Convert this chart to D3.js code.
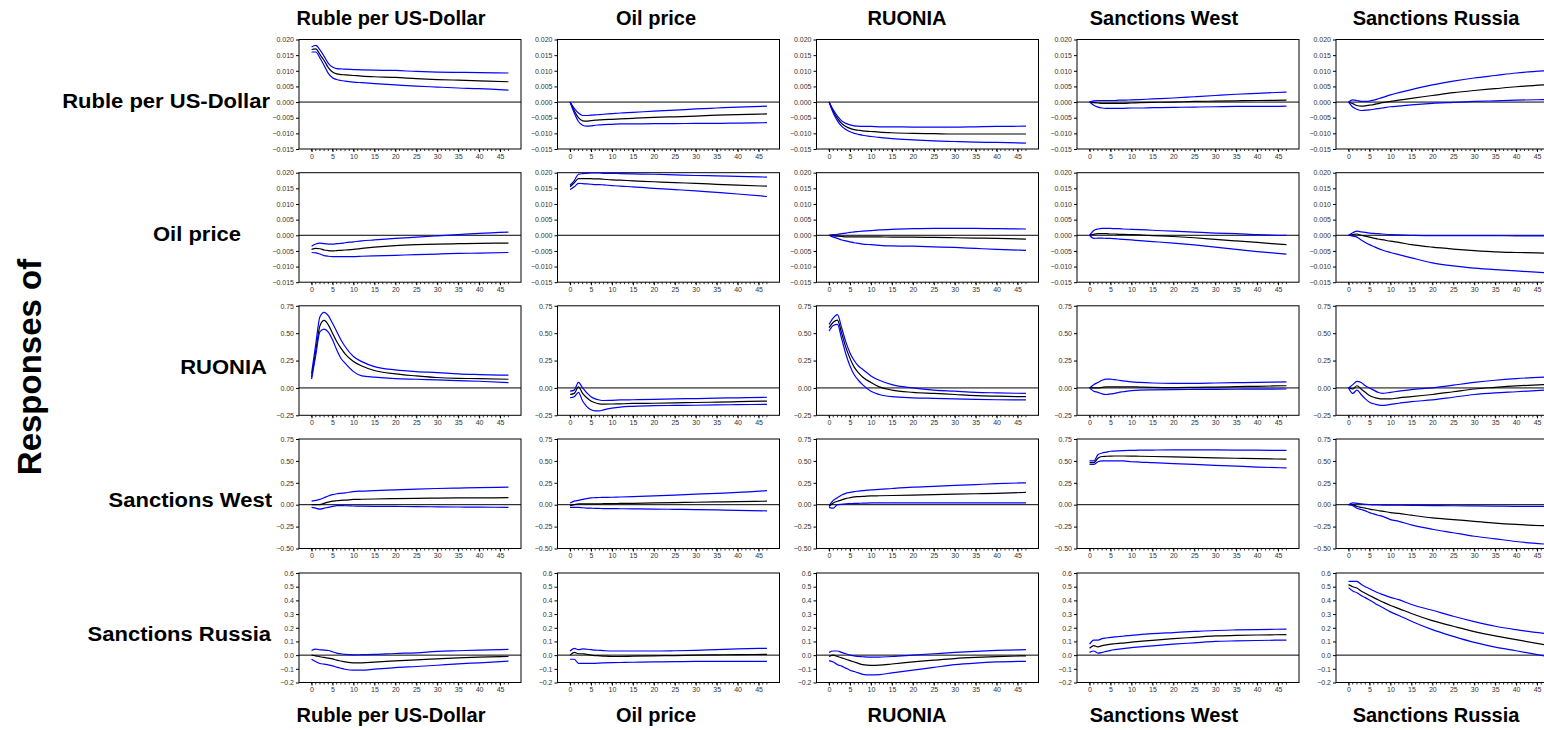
<!DOCTYPE html>
<html>
<head>
<meta charset="utf-8">
<script src="https://cdn.jsdelivr.net/npm/d3@7"></script>
<style>
  html, body { margin: 0; padding: 0; background: #fff; }
  text { font-family: "Liberation Sans", Arial, sans-serif; }
</style>
</head>
<body>
<div id="chart"></div>
<script>
// variable names (rows = responses, columns = shocks)
var variables = ["Ruble per US-Dollar", "Oil price", "RUONIA", "Sanctions West", "Sanctions Russia"];

var horizons = [0, 1, 2, 3, 4, 5, 6, 7, 8, 10, 12, 15, 20, 25, 30, 35, 40, 47];
var xTicks = [0, 5, 10, 15, 20, 25, 30, 35, 40, 45];
var xMinorTicks = d3.range(0, 48);

// y axis per response row
var yDomains = [[-0.015, 0.020], [-0.015, 0.020], [-0.25, 0.75], [-0.50, 0.75], [-0.2, 0.6]];
var yTicks = [
  [-0.015, -0.010, -0.005, 0.000, 0.005, 0.010, 0.015, 0.020],
  [-0.015, -0.010, -0.005, 0.000, 0.005, 0.010, 0.015, 0.020],
  [-0.25, 0.00, 0.25, 0.50, 0.75],
  [-0.50, -0.25, 0.00, 0.25, 0.50, 0.75],
  [-0.2, -0.1, 0.0, 0.1, 0.2, 0.3, 0.4, 0.5, 0.6]
];
var yFormats = [".3f", ".3f", ".2f", ".2f", ".1f"];

// impulse responses: [upper band, estimate, lower band], response_shock
var ruble_ruble = [
  [0.0176,0.0181,0.0167,0.0146,0.0124,0.0112,0.0107,0.0106,0.0105,0.0104,0.0103,0.0102,0.0101,0.0098,0.0096,0.0095,0.0094,0.0093],
  [0.0168,0.0170,0.0152,0.0133,0.0110,0.0096,0.0090,0.0088,0.0087,0.0085,0.0083,0.0081,0.0079,0.0075,0.0072,0.0070,0.0068,0.0065],
  [0.0160,0.0160,0.0141,0.0117,0.0092,0.0078,0.0072,0.0069,0.0067,0.0064,0.0062,0.0059,0.0055,0.0051,0.0048,0.0045,0.0043,0.0038]
];
var ruble_oil = [
  [0,-0.0020,-0.0035,-0.0043,-0.0043,-0.0042,-0.0041,-0.0040,-0.0039,-0.0037,-0.0035,-0.0033,-0.0029,-0.0026,-0.0022,-0.0019,-0.0016,-0.0013],
  [0,-0.0028,-0.0050,-0.0060,-0.0061,-0.0059,-0.0058,-0.0057,-0.0056,-0.0055,-0.0054,-0.0052,-0.0049,-0.0047,-0.0045,-0.0042,-0.0040,-0.0038],
  [0,-0.0035,-0.0062,-0.0074,-0.0077,-0.0076,-0.0074,-0.0073,-0.0072,-0.0071,-0.0070,-0.0070,-0.0069,-0.0069,-0.0068,-0.0068,-0.0067,-0.0066]
];
var ruble_ruonia = [
  [0,-0.0025,-0.0045,-0.0060,-0.0068,-0.0073,-0.0076,-0.0077,-0.0078,-0.0078,-0.0079,-0.0079,-0.0080,-0.0080,-0.0080,-0.0079,-0.0078,-0.0077],
  [0,-0.0030,-0.0052,-0.0068,-0.0078,-0.0084,-0.0088,-0.0090,-0.0092,-0.0094,-0.0096,-0.0098,-0.0100,-0.0101,-0.0102,-0.0102,-0.0102,-0.0102],
  [0,-0.0035,-0.0060,-0.0077,-0.0088,-0.0095,-0.0100,-0.0103,-0.0106,-0.0110,-0.0113,-0.0117,-0.0121,-0.0124,-0.0126,-0.0128,-0.0129,-0.0131]
];
var ruble_west = [
  [0,0.0004,0.0005,0.0005,0.0005,0.0005,0.0005,0.0006,0.0006,0.0007,0.0008,0.0010,0.0013,0.0017,0.0021,0.0025,0.0028,0.0032],
  [0,-0.0002,-0.0003,-0.0004,-0.0004,-0.0004,-0.0004,-0.0004,-0.0004,-0.0003,-0.0002,-0.0001,0.0000,0.0002,0.0003,0.0004,0.0005,0.0006],
  [0,-0.0010,-0.0016,-0.0019,-0.0020,-0.0020,-0.0020,-0.0020,-0.0020,-0.0019,-0.0019,-0.0018,-0.0017,-0.0016,-0.0015,-0.0014,-0.0014,-0.0013]
];
var ruble_russia = [
  [0,0.0007,0.0005,0.0002,0.0002,0.0003,0.0006,0.0010,0.0014,0.0023,0.0030,0.0040,0.0055,0.0067,0.0077,0.0085,0.0093,0.0100],
  [0,-0.0005,-0.0011,-0.0013,-0.0012,-0.0010,-0.0008,-0.0005,-0.0002,0.0002,0.0006,0.0012,0.0021,0.0030,0.0037,0.0043,0.0049,0.0055],
  [0,-0.0016,-0.0023,-0.0027,-0.0026,-0.0025,-0.0023,-0.0021,-0.0019,-0.0015,-0.0013,-0.0009,-0.0004,-0.0001,0.0002,0.0004,0.0006,0.0008]
];

var oil_ruble = [
  [-0.0035,-0.0028,-0.0025,-0.0027,-0.0028,-0.0028,-0.0027,-0.0026,-0.0024,-0.0021,-0.0018,-0.0015,-0.0010,-0.0006,-0.0002,0.0002,0.0006,0.0010],
  [-0.0045,-0.0042,-0.0043,-0.0047,-0.0049,-0.0050,-0.0049,-0.0048,-0.0047,-0.0045,-0.0042,-0.0038,-0.0033,-0.0030,-0.0028,-0.0027,-0.0026,-0.0025],
  [-0.0055,-0.0056,-0.0060,-0.0065,-0.0067,-0.0068,-0.0068,-0.0068,-0.0068,-0.0068,-0.0067,-0.0066,-0.0064,-0.0062,-0.0060,-0.0058,-0.0057,-0.0055]
];
var oil_oil = [
  [0.0160,0.0175,0.0195,0.0197,0.0198,0.0199,0.0199,0.0199,0.0198,0.0198,0.0197,0.0196,0.0195,0.0193,0.0191,0.0190,0.0188,0.0186],
  [0.0155,0.0168,0.0181,0.0181,0.0181,0.0181,0.0180,0.0180,0.0179,0.0177,0.0176,0.0174,0.0171,0.0168,0.0166,0.0163,0.0160,0.0157],
  [0.0146,0.0155,0.0166,0.0165,0.0164,0.0163,0.0162,0.0162,0.0161,0.0159,0.0157,0.0155,0.0150,0.0146,0.0142,0.0137,0.0132,0.0124]
];
var oil_ruonia = [
  [0,0.0002,0.0003,0.0005,0.0007,0.0009,0.0011,0.0012,0.0013,0.0015,0.0017,0.0019,0.0021,0.0022,0.0022,0.0022,0.0021,0.0020],
  [0,-0.0002,-0.0003,-0.0004,-0.0005,-0.0005,-0.0005,-0.0005,-0.0005,-0.0005,-0.0005,-0.0006,-0.0006,-0.0007,-0.0008,-0.0009,-0.0010,-0.0012],
  [0,-0.0006,-0.0010,-0.0015,-0.0018,-0.0021,-0.0024,-0.0026,-0.0028,-0.0030,-0.0032,-0.0034,-0.0035,-0.0037,-0.0039,-0.0042,-0.0045,-0.0048]
];
var oil_west = [
  [0,0.0015,0.0020,0.0022,0.0022,0.0022,0.0021,0.0021,0.0020,0.0019,0.0018,0.0016,0.0013,0.0010,0.0007,0.0005,0.0002,0.0000],
  [0,0.0003,0.0005,0.0005,0.0005,0.0004,0.0004,0.0003,0.0003,0.0002,0.0001,-0.0001,-0.0004,-0.0008,-0.0013,-0.0018,-0.0023,-0.0030],
  [0,-0.0010,-0.0009,-0.0009,-0.0010,-0.0010,-0.0011,-0.0012,-0.0013,-0.0015,-0.0017,-0.0020,-0.0025,-0.0031,-0.0038,-0.0045,-0.0052,-0.0060]
];
var oil_russia = [
  [0,0.0008,0.0013,0.0011,0.0009,0.0007,0.0006,0.0005,0.0004,0.0002,0.0001,0.0000,-0.0001,-0.0001,-0.0001,-0.0001,-0.0002,-0.0002],
  [0,0.0002,0.0004,0.0000,-0.0003,-0.0006,-0.0009,-0.0012,-0.0014,-0.0019,-0.0023,-0.0030,-0.0038,-0.0044,-0.0049,-0.0053,-0.0055,-0.0057],
  [0,-0.0003,-0.0006,-0.0015,-0.0023,-0.0030,-0.0036,-0.0042,-0.0047,-0.0055,-0.0062,-0.0072,-0.0088,-0.0098,-0.0105,-0.0110,-0.0114,-0.0120]
];

var ruonia_ruble = [
  [0.13,0.40,0.65,0.69,0.66,0.59,0.515,0.44,0.378,0.287,0.24,0.195,0.165,0.149,0.14,0.128,0.122,0.116],
  [0.098,0.33,0.567,0.616,0.576,0.50,0.424,0.363,0.311,0.241,0.20,0.159,0.128,0.11,0.095,0.088,0.085,0.079],
  [0.08,0.30,0.515,0.537,0.509,0.439,0.348,0.271,0.226,0.149,0.11,0.098,0.085,0.079,0.073,0.067,0.061,0.049]
];
var ruonia_oil = [
  [-0.03,-0.02,0.05,0.0,-0.045,-0.08,-0.10,-0.11,-0.115,-0.113,-0.11,-0.108,-0.105,-0.10,-0.097,-0.093,-0.09,-0.085],
  [-0.06,-0.05,0.01,-0.05,-0.09,-0.12,-0.135,-0.145,-0.148,-0.147,-0.145,-0.142,-0.14,-0.137,-0.133,-0.13,-0.126,-0.12],
  [-0.09,-0.08,-0.04,-0.12,-0.17,-0.20,-0.21,-0.21,-0.20,-0.185,-0.175,-0.168,-0.162,-0.16,-0.158,-0.155,-0.153,-0.15]
];
var ruonia_ruonia = [
  [0.58,0.64,0.67,0.55,0.42,0.32,0.25,0.20,0.17,0.11,0.07,0.03,0.00,-0.02,-0.03,-0.04,-0.045,-0.05],
  [0.55,0.60,0.62,0.50,0.37,0.27,0.19,0.14,0.10,0.05,0.01,-0.02,-0.04,-0.05,-0.06,-0.07,-0.075,-0.08],
  [0.52,0.57,0.58,0.45,0.31,0.20,0.12,0.07,0.03,-0.03,-0.06,-0.08,-0.09,-0.095,-0.10,-0.105,-0.108,-0.11]
];
var ruonia_west = [
  [0,0.03,0.05,0.07,0.08,0.08,0.075,0.07,0.065,0.055,0.05,0.045,0.042,0.042,0.045,0.048,0.051,0.055],
  [0,0.0,0.0,0.005,0.01,0.01,0.01,0.01,0.01,0.01,0.008,0.005,0.003,0.005,0.008,0.011,0.015,0.02],
  [0,-0.03,-0.04,-0.055,-0.06,-0.055,-0.05,-0.04,-0.035,-0.025,-0.02,-0.018,-0.015,-0.014,-0.013,-0.012,-0.011,-0.01]
];
var ruonia_russia = [
  [0,0.03,0.06,0.05,0.02,0.0,-0.02,-0.04,-0.05,-0.04,-0.03,-0.015,0.0,0.025,0.05,0.07,0.085,0.10],
  [0,-0.01,0.02,-0.01,-0.04,-0.07,-0.085,-0.095,-0.10,-0.10,-0.09,-0.08,-0.06,-0.035,-0.01,0.005,0.018,0.03],
  [0,-0.05,-0.02,-0.06,-0.10,-0.13,-0.145,-0.155,-0.16,-0.15,-0.14,-0.125,-0.11,-0.085,-0.06,-0.045,-0.035,-0.02]
];

var west_ruble = [
  [0.04,0.05,0.06,0.08,0.10,0.115,0.125,0.13,0.135,0.15,0.155,0.16,0.17,0.178,0.185,0.19,0.195,0.20],
  [0.0,0.0,0.0,0.015,0.03,0.04,0.045,0.05,0.052,0.06,0.062,0.065,0.07,0.073,0.075,0.077,0.078,0.08],
  [-0.03,-0.04,-0.05,-0.04,-0.03,-0.02,-0.01,-0.01,-0.012,-0.015,-0.017,-0.018,-0.02,-0.022,-0.024,-0.026,-0.028,-0.03]
];
var west_oil = [
  [0.02,0.04,0.05,0.06,0.07,0.078,0.08,0.082,0.083,0.085,0.088,0.092,0.10,0.11,0.12,0.13,0.14,0.16],
  [-0.01,0.0,0.01,0.01,0.01,0.01,0.01,0.01,0.012,0.013,0.014,0.016,0.02,0.024,0.028,0.032,0.036,0.04],
  [-0.03,-0.03,-0.03,-0.035,-0.038,-0.04,-0.042,-0.043,-0.044,-0.045,-0.046,-0.048,-0.05,-0.053,-0.056,-0.06,-0.064,-0.07]
];
var west_ruonia = [
  [-0.01,0.05,0.08,0.11,0.13,0.14,0.15,0.155,0.16,0.17,0.175,0.185,0.20,0.21,0.22,0.23,0.24,0.25],
  [-0.02,0.02,0.04,0.055,0.07,0.08,0.09,0.092,0.094,0.10,0.102,0.105,0.11,0.115,0.12,0.125,0.13,0.14],
  [-0.03,-0.04,0.0,0.005,0.01,0.012,0.015,0.016,0.017,0.02,0.02,0.02,0.02,0.02,0.02,0.02,0.02,0.02]
];
var west_west = [
  [0.50,0.50,0.57,0.59,0.60,0.61,0.612,0.615,0.617,0.62,0.622,0.624,0.625,0.625,0.625,0.624,0.622,0.62],
  [0.48,0.48,0.53,0.55,0.553,0.555,0.556,0.556,0.556,0.555,0.553,0.55,0.545,0.54,0.535,0.53,0.525,0.52],
  [0.46,0.46,0.49,0.50,0.50,0.50,0.50,0.50,0.50,0.49,0.487,0.48,0.47,0.46,0.45,0.44,0.43,0.42]
];
var west_russia = [
  [0.0,0.02,0.015,0.01,0.005,0.0,-0.002,-0.003,-0.004,-0.005,-0.006,-0.008,-0.01,-0.012,-0.014,-0.016,-0.018,-0.02],
  [0.0,0.0,-0.02,-0.03,-0.04,-0.05,-0.058,-0.066,-0.073,-0.09,-0.10,-0.12,-0.15,-0.17,-0.19,-0.21,-0.225,-0.24],
  [0.0,-0.01,-0.04,-0.055,-0.07,-0.09,-0.105,-0.12,-0.13,-0.17,-0.19,-0.23,-0.28,-0.32,-0.36,-0.39,-0.42,-0.45]
];

var russia_ruble = [
  [0.034,0.044,0.039,0.037,0.034,0.025,0.015,0.01,0.005,0.002,0.003,0.005,0.012,0.017,0.027,0.032,0.037,0.042],
  [0,-0.005,-0.012,-0.017,-0.022,-0.027,-0.037,-0.043,-0.049,-0.056,-0.056,-0.051,-0.042,-0.034,-0.027,-0.02,-0.015,-0.01],
  [-0.03,-0.047,-0.061,-0.066,-0.071,-0.078,-0.088,-0.096,-0.103,-0.11,-0.11,-0.103,-0.091,-0.083,-0.074,-0.064,-0.056,-0.044]
];
var russia_oil = [
  [0.03,0.05,0.04,0.045,0.043,0.04,0.037,0.035,0.033,0.03,0.03,0.03,0.03,0.032,0.035,0.04,0.045,0.05],
  [0.0,0.02,0.01,0.01,0.005,0.0,-0.003,-0.005,-0.007,-0.01,-0.01,-0.008,-0.005,-0.003,0.0,0.002,0.004,0.005],
  [-0.03,-0.03,-0.06,-0.06,-0.06,-0.06,-0.06,-0.058,-0.057,-0.055,-0.054,-0.052,-0.05,-0.048,-0.046,-0.045,-0.045,-0.045]
];
var russia_ruonia = [
  [0.02,0.03,0.03,0.02,0.01,0.0,-0.005,-0.01,-0.012,-0.015,-0.014,-0.01,0.0,0.01,0.02,0.028,0.034,0.04],
  [-0.01,0.0,-0.01,-0.02,-0.03,-0.04,-0.05,-0.06,-0.07,-0.075,-0.073,-0.065,-0.05,-0.037,-0.025,-0.017,-0.011,-0.005],
  [-0.04,-0.05,-0.07,-0.08,-0.095,-0.11,-0.12,-0.13,-0.14,-0.145,-0.142,-0.13,-0.11,-0.09,-0.07,-0.058,-0.05,-0.045]
];
var russia_west = [
  [0.08,0.11,0.11,0.12,0.125,0.13,0.133,0.136,0.138,0.145,0.15,0.157,0.165,0.173,0.18,0.184,0.187,0.19],
  [0.05,0.07,0.06,0.07,0.075,0.08,0.083,0.086,0.088,0.095,0.10,0.108,0.12,0.13,0.14,0.144,0.147,0.15],
  [0.02,0.03,0.015,0.02,0.028,0.035,0.04,0.044,0.047,0.055,0.06,0.068,0.08,0.09,0.10,0.104,0.107,0.11]
];
var russia_russia = [
  [0.539,0.539,0.539,0.517,0.50,0.485,0.47,0.456,0.444,0.422,0.405,0.37,0.328,0.284,0.245,0.211,0.186,0.158],
  [0.515,0.50,0.49,0.468,0.452,0.436,0.42,0.404,0.39,0.363,0.34,0.304,0.252,0.211,0.172,0.14,0.113,0.075],
  [0.493,0.468,0.456,0.436,0.42,0.402,0.384,0.366,0.35,0.316,0.29,0.248,0.186,0.137,0.093,0.059,0.032,-0.008]
];

var grid = [
  [ruble_ruble, ruble_oil, ruble_ruonia, ruble_west, ruble_russia],
  [oil_ruble, oil_oil, oil_ruonia, oil_west, oil_russia],
  [ruonia_ruble, ruonia_oil, ruonia_ruonia, ruonia_west, ruonia_russia],
  [west_ruble, west_oil, west_ruonia, west_west, west_russia],
  [russia_ruble, russia_oil, russia_ruonia, russia_west, russia_russia]
];

// layout
var
  WIDTH = 1544,
  HEIGHT = 730,
  PLOT_W = 222,
  PLOT_H = 109.5,
  COL_LEFT = [299, 557.5, 816.5, 1077, 1336],
  ROW_TOP = [39.5, 172.7, 305.8, 439, 573],
  TITLE_X = [391, 656, 907, 1164, 1436],
  ROW_LABEL_END = [270, 241, 267, 272, 271],
  ROW_LABEL_MID = [101, 234, 367, 500, 634],
  ROW_LABEL_STRETCH = 1.1,
  BAND_COLOR = "#0000ff",
  EST_COLOR = "#000000",
  FONT = "'Liberation Sans', Arial, sans-serif";

var svg = d3.select("#chart").append("svg")
  .attr("width", WIDTH)
  .attr("height", HEIGHT);

var x = d3.scaleLinear().domain([-3, 50]).range([0, PLOT_W]);

function drawPanel(row, col){
  var
    series = grid[row][col],
    y = d3.scaleLinear().domain(yDomains[row]).range([PLOT_H, 0]),
    g = svg.append("g").attr("transform", "translate(" + COL_LEFT[col] + "," + ROW_TOP[row] + ")");

  // y axis
  var yAxis = d3.axisLeft(y).tickValues(yTicks[row]).tickFormat(d3.format(yFormats[row]))
    .tickSize(3).tickPadding(2);
  var ya = g.append("g").call(yAxis);
  ya.select(".domain").remove();
  ya.selectAll("line").attr("stroke", "#000");
  ya.selectAll("text").attr("font-size", 7).attr("fill", "#333").attr("font-family", FONT);

  // x axis: minor ticks then labelled ticks
  var xa = g.append("g").attr("transform", "translate(0," + PLOT_H + ")");
  xa.selectAll("line.minor").data(xMinorTicks).enter().append("line")
    .attr("class", "minor")
    .attr("x1", function(d){ return x(d); })
    .attr("x2", function(d){ return x(d); })
    .attr("y1", 0).attr("y2", 2)
    .attr("stroke", "#000").attr("stroke-width", 0.8);
  var xAxis = d3.axisBottom(x).tickValues(xTicks).tickSize(3).tickPadding(2);
  var xg = xa.append("g").call(xAxis);
  xg.select(".domain").remove();
  xg.selectAll("line").attr("stroke", "#000");
  xg.selectAll("text").attr("font-size", 7).attr("fill", "#333").attr("font-family", FONT);

  // frame and zero line
  g.append("rect")
    .attr("width", PLOT_W).attr("height", PLOT_H)
    .attr("fill", "none").attr("stroke", "#000").attr("stroke-width", 1);
  g.append("line")
    .attr("x1", 0).attr("x2", PLOT_W)
    .attr("y1", y(0)).attr("y2", y(0))
    .attr("stroke", "#000").attr("stroke-width", 1);

  var line = d3.line()
    .x(function(d, i){ return x(horizons[i]); })
    .y(function(d){ return y(d); })
    .curve(d3.curveMonotoneX);

  series.forEach(function(values, k){
    g.append("path")
      .attr("d", line(values))
      .attr("fill", "none")
      .attr("stroke", k === 1 ? EST_COLOR : BAND_COLOR)
      .attr("stroke-width", 1.2);
  });
}

for (var r = 0; r < 5; r++){
  for (var c = 0; c < 5; c++){
    drawPanel(r, c);
  }
}

// column titles (top and bottom)
variables.forEach(function(name, i){
  [25, 722].forEach(function(yPos){
    svg.append("text")
      .attr("x", TITLE_X[i]).attr("y", yPos)
      .attr("text-anchor", "middle")
      .attr("font-family", FONT).attr("font-weight", "bold").attr("font-size", 20)
      .text(name);
  });
});

// row labels, slightly widened like the original
variables.forEach(function(name, i){
  var t = svg.append("text")
    .attr("x", ROW_LABEL_END[i]).attr("y", ROW_LABEL_MID[i] + 7)
    .attr("text-anchor", "end")
    .attr("font-family", FONT).attr("font-weight", "bold").attr("font-size", 20)
    .text(name);
  var w = t.node().getComputedTextLength();
  t.attr("textLength", w * ROW_LABEL_STRETCH).attr("lengthAdjust", "spacingAndGlyphs");
});

svg.append("text")
  .attr("transform", "translate(41,367) rotate(-90)")
  .attr("text-anchor", "middle")
  .attr("font-family", FONT).attr("font-weight", "bold").attr("font-size", 33)
  .text("Responses of");
</script>
</body>
</html>
